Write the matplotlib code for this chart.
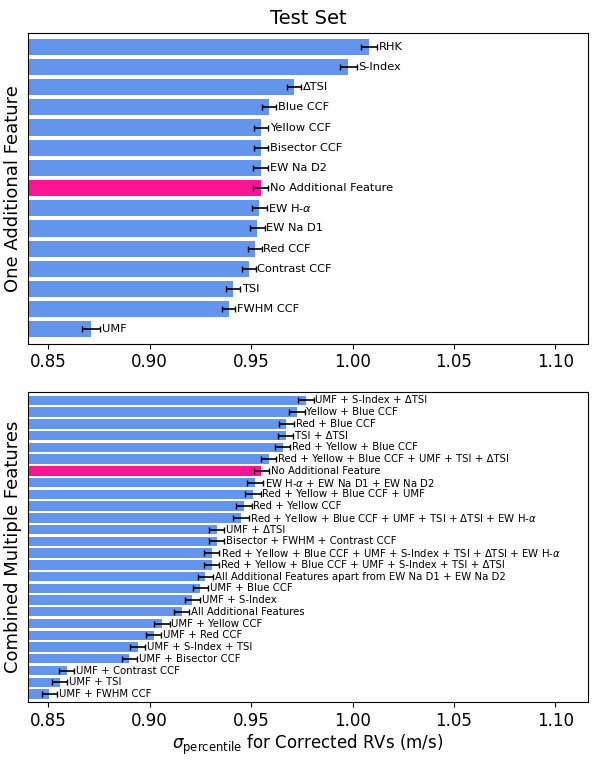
import matplotlib
matplotlib.use("Agg")
import matplotlib.pyplot as plt

top_labels = ["RHK", "S-Index", "ΔTSI", "Blue CCF", "Yellow CCF", "Bisector CCF", "EW Na D2",
              "No Additional Feature", r"EW H-$\alpha$", "EW Na D1", "Red CCF", "Contrast CCF",
              "TSI", "FWHM CCF", "UMF"]
top_vals = [1.008, 0.998, 0.971, 0.959, 0.955, 0.9548, 0.9548, 0.9548, 0.954, 0.953, 0.952,
            0.949, 0.941, 0.939, 0.871]
top_err = [0.004, 0.004, 0.0035, 0.0035, 0.0035, 0.0035, 0.0037, 0.0037, 0.0037, 0.0037,
           0.0033, 0.0033, 0.0035, 0.0033, 0.0045]

bot_labels = ["UMF + S-Index + ΔTSI", "Yellow + Blue CCF", "Red + Blue CCF", "TSI + ΔTSI",
              "Red + Yellow + Blue CCF", "Red + Yellow + Blue CCF + UMF + TSI + ΔTSI",
              "No Additional Feature", r"EW H-$\alpha$ + EW Na D1 + EW Na D2",
              "Red + Yellow + Blue CCF + UMF", "Red + Yellow CCF",
              r"Red + Yellow + Blue CCF + UMF + TSI + ΔTSI + EW H-$\alpha$",
              "UMF + ΔTSI", "Bisector + FWHM + Contrast CCF",
              r"Red + Yellow + Blue CCF + UMF + S-Index + TSI + ΔTSI + EW H-$\alpha$",
              "Red + Yellow + Blue CCF + UMF + S-Index + TSI + ΔTSI",
              "All Additional Features apart from EW Na D1 + EW Na D2",
              "UMF + Blue CCF", "UMF + S-Index", "All Additional Features",
              "UMF + Yellow CCF", "UMF + Red CCF", "UMF + S-Index + TSI",
              "UMF + Bisector CCF", "UMF + Contrast CCF", "UMF + TSI", "UMF + FWHM CCF"]
bot_vals = [0.977, 0.9726, 0.9674, 0.967, 0.9655, 0.9586, 0.955, 0.952, 0.951, 0.9465, 0.945,
            0.933, 0.933, 0.9306, 0.9306, 0.9274, 0.925, 0.921, 0.9157, 0.906, 0.902, 0.894,
            0.890, 0.859, 0.8556, 0.8506]
bot_err = [0.0038] * len(bot_vals)

BLUE = "#6495ED"
PINK = "#FF1493"

fig = plt.figure(figsize=(5.95, 7.6), dpi=100)
ax1 = fig.add_axes([0.047, 0.548, 0.941, 0.409])
ax2 = fig.add_axes([0.047, 0.076, 0.941, 0.408])

def panel(ax, labels, vals, errs, fs):
    n = len(vals)
    ys = list(range(n - 1, -1, -1))
    cols = [PINK if l == "No Additional Feature" else BLUE for l in labels]
    ax.barh(ys, vals, xerr=errs, color=cols, height=0.8, capsize=2,
            error_kw=dict(ecolor="black", elinewidth=1.2, capthick=1))
    for y, v, e, l in zip(ys, vals, errs, labels):
        ax.text(v + e + 0.0008, y, l, va="center", ha="left", fontsize=fs)
    ax.set_xlim(0.840, 1.116)
    ax.set_yticks([])
    ax.set_xticks([0.85, 0.90, 0.95, 1.00, 1.05, 1.10])
    ax.tick_params(axis="x", labelsize=12)
    ax.set_ylim(-0.7, n - 0.3)

panel(ax1, top_labels, top_vals, top_err, 8.2)
panel(ax2, bot_labels, bot_vals, bot_err, 7.3)
ax1.set_title("Test Set", fontsize=14)
ax1.set_ylabel("One Additional Feature", fontsize=13)
ax2.set_ylabel("Combined Multiple Features", fontsize=13)
ax2.set_xlabel(r"$\sigma_{\mathrm{percentile}}$ for Corrected RVs (m/s)", fontsize=12, labelpad=2)
fig.savefig("out.png", dpi=100)
